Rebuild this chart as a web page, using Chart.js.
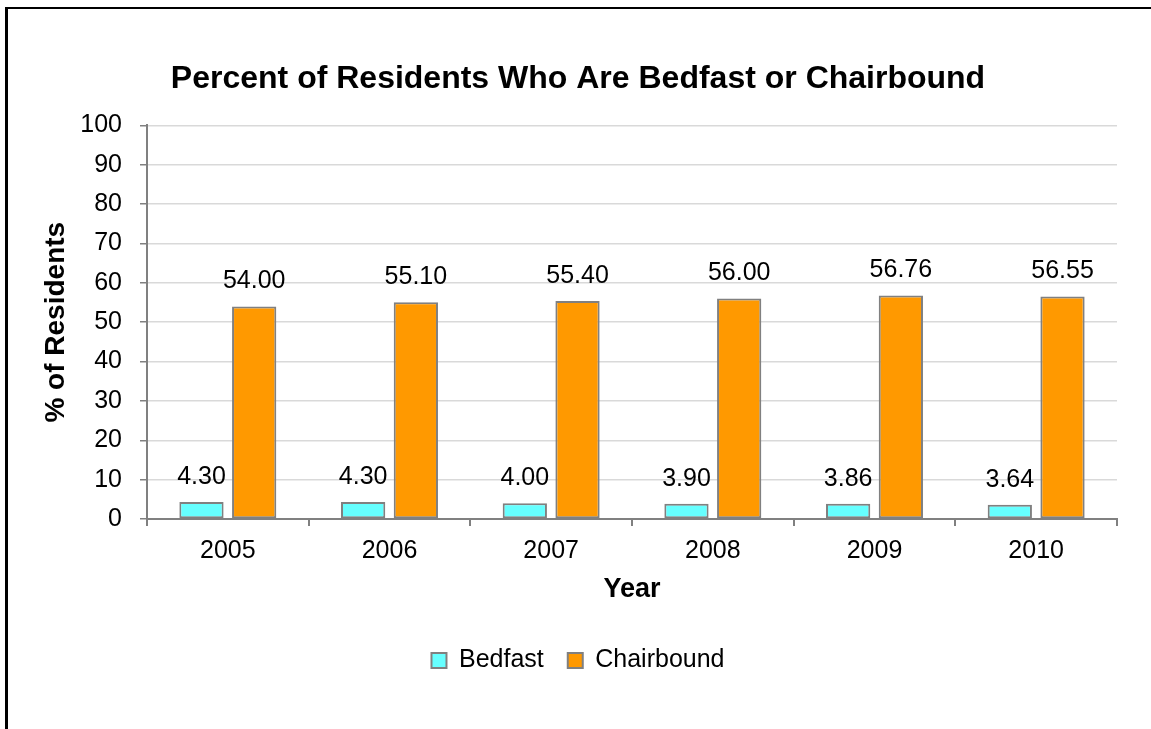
<!DOCTYPE html>
<html>
<head>
<meta charset="utf-8">
<script src="https://cdn.jsdelivr.net/npm/chart.js@4.4.0/dist/chart.umd.min.js"></script>
<style>
  html, body { margin: 0; padding: 0; background: #ffffff; }
  #wrap { position: relative; width: 1151px; height: 729px; overflow: hidden; }
  #frame { position: absolute; left: 5px; top: 7px; right: -10px; bottom: -10px;
           border-left: 3px solid #000; border-top: 2px solid #000; pointer-events: none; }
  canvas { display: block; }
</style>
</head>
<body>
<div id="wrap">
  <canvas id="c" width="1151" height="729"></canvas>
  <div id="frame"></div>
</div>
<script>
const chartTitle = 'Percent of Residents Who Are Bedfast or Chairbound';
const categories = ['2005', '2006', '2007', '2008', '2009', '2010'];
const bedfast = [4.30, 4.30, 4.00, 3.90, 3.86, 3.64];
const chairbound = [54.00, 55.10, 55.40, 56.00, 56.76, 56.55];
const seriesNames = ['Bedfast', 'Chairbound'];
const yTickValues = [0, 10, 20, 30, 40, 50, 60, 70, 80, 90, 100];
const xAxisTitle = 'Year';
const yAxisTitle = '% of Residents';

const FONT = '"Liberation Sans", Arial, sans-serif';

const valueLabels = {
  id: 'valueLabels',
  afterDatasetsDraw(chart) {
    const ctx = chart.ctx;
    ctx.save();
    ctx.font = '25px ' + FONT;
    ctx.fillStyle = '#000000';
    ctx.textAlign = 'center';
    ctx.textBaseline = 'middle';
    chart.data.datasets.forEach((ds, i) => {
      const meta = chart.getDatasetMeta(i);
      meta.data.forEach((el, j) => {
        ctx.fillText(ds.data[j].toFixed(2), el.x, el.y - 25);
      });
    });
    ctx.restore();
  }
};

new Chart(document.getElementById('c'), {
  type: 'bar',
  data: {
    labels: categories,
    datasets: [
      { label: seriesNames[0], data: bedfast, backgroundColor: '#66FFFF',
        borderColor: '#808080', borderWidth: 2, borderSkipped: false,
        categoryPercentage: 0.652, barPercentage: 0.84 },
      { label: seriesNames[1], data: chairbound, backgroundColor: '#FF9900',
        borderColor: '#808080', borderWidth: 2, borderSkipped: false,
        categoryPercentage: 0.652, barPercentage: 0.84 }
    ]
  },
  options: {
    responsive: false,
    animation: false,
    layout: { padding: { left: 24, right: 19, top: 0, bottom: 46 } },
    plugins: {
      title: {
        display: true, text: chartTitle, color: '#000000',
        font: { family: FONT, size: 32, weight: 'bold' },
        padding: { top: 60, bottom: 27 }
      },
      legend: {
        position: 'bottom',
        labels: {
          color: '#000000', font: { family: FONT, size: 25 },
          boxWidth: 15, boxHeight: 15, padding: 24,
          generateLabels(chart) {
            return chart.data.datasets.map((ds, i) => ({
              text: ds.label, fillStyle: ds.backgroundColor, strokeStyle: '#808080',
              lineWidth: 2, hidden: false, datasetIndex: i, fontColor: '#000000'
            }));
          }
        }
      },
      tooltip: { enabled: false }
    },
    scales: {
      x: {
        offset: true,
        grid: { display: true, offset: true, drawOnChartArea: false, drawTicks: true,
                tickLength: 7, color: '#808080', tickColor: '#808080', lineWidth: 2 },
        border: { display: true, color: '#808080', width: 2 },
        ticks: { color: '#000000', font: { family: FONT, size: 25 }, padding: 10, maxRotation: 0 },
        title: { display: true, text: xAxisTitle, color: '#000000',
                 font: { family: FONT, size: 27, weight: 'bold' }, padding: { top: 0, bottom: 18 } },
        afterFit(scale) { scale.height = 105; }
      },
      y: {
        min: 0, max: 100,
        afterBuildTicks(scale) { scale.ticks = yTickValues.map(v => ({ value: v })); },
        grid: { color: '#d9d9d9', lineWidth: 1.5, drawTicks: true, tickLength: 7, tickColor: '#808080' },
        border: { display: true, color: '#808080', width: 2 },
        ticks: { color: '#000000', font: { family: FONT, size: 25 }, padding: 18 },
        title: { display: true, text: yAxisTitle, color: '#000000',
                 font: { family: FONT, size: 28, weight: 'bold' }, padding: { top: 15, bottom: 0 } },
        afterFit(scale) { scale.width = 123; }
      },
      yRight: {
        position: 'right', display: true,
        grid: { display: false }, border: { display: false },
        ticks: { display: false },
        afterFit(scale) { scale.width = 15; }
      }
    }
  },
  plugins: [valueLabels]
});
</script>
</body>
</html>
